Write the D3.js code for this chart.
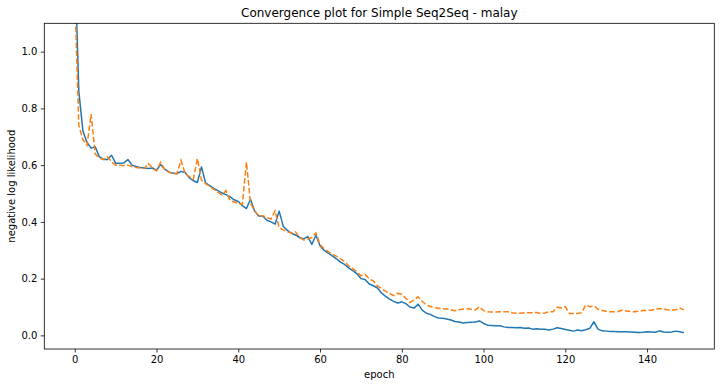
<!DOCTYPE html>
<html>
<head>
<meta charset="utf-8">
<script src="https://cdn.jsdelivr.net/npm/d3@7"></script>
<style>
  body { margin: 0; background: #fff; }
  text { font-family: "DejaVu Sans", sans-serif; fill: #000; }
</style>
</head>
<body>
<div id="chart"></div>
<script>
// Loss per epoch.
let trainLoss = [
  1.33, 0.86, 0.72, 0.68, 0.66, 0.665, 0.63, 0.62, 0.62, 0.635,
  0.607, 0.607, 0.608, 0.62, 0.60, 0.595, 0.592, 0.59, 0.588, 0.59,
  0.582, 0.602, 0.586, 0.576, 0.572, 0.57, 0.578, 0.574, 0.556, 0.545,
  0.539, 0.594, 0.538, 0.528, 0.518, 0.51, 0.502, 0.496, 0.488, 0.478,
  0.472, 0.457, 0.447, 0.48, 0.438, 0.421, 0.42, 0.406, 0.40, 0.392,
  0.438, 0.385, 0.37, 0.36, 0.354, 0.345, 0.34, 0.348, 0.321, 0.353,
  0.316, 0.30, 0.29, 0.28, 0.27, 0.258, 0.25, 0.238, 0.228, 0.218,
  0.20, 0.197, 0.182, 0.175, 0.168, 0.15, 0.138, 0.128, 0.12, 0.114,
  0.118, 0.112, 0.10, 0.096, 0.11, 0.089, 0.078, 0.074, 0.066, 0.061,
  0.06, 0.058, 0.054, 0.049, 0.047, 0.044, 0.045, 0.046, 0.047, 0.051,
  0.042, 0.036, 0.035, 0.034, 0.034, 0.03, 0.028, 0.028, 0.027, 0.028,
  0.025, 0.026, 0.022, 0.023, 0.022, 0.022, 0.019, 0.022, 0.027, 0.024,
  0.021, 0.018, 0.015, 0.019, 0.016, 0.02, 0.025, 0.048, 0.022, 0.016,
  0.015, 0.014, 0.014, 0.013, 0.013, 0.013, 0.012, 0.011, 0.01, 0.011,
  0.013, 0.012, 0.011, 0.016, 0.012, 0.011, 0.012, 0.015, 0.013, 0.009
]
let validLoss = [
  1.2, 0.74, 0.69, 0.67, 0.78, 0.64, 0.625, 0.62, 0.63, 0.612,
  0.60, 0.60, 0.598, 0.60, 0.595, 0.592, 0.59, 0.588, 0.606, 0.59,
  0.58, 0.61, 0.585, 0.575, 0.57, 0.57, 0.617, 0.57, 0.56, 0.55,
  0.623, 0.547, 0.535, 0.525, 0.515, 0.505, 0.495, 0.51, 0.475, 0.47,
  0.465, 0.462, 0.611, 0.465, 0.44, 0.42, 0.422, 0.415, 0.41, 0.439,
  0.38, 0.372, 0.365, 0.36, 0.365, 0.345, 0.336, 0.34, 0.345, 0.361,
  0.32, 0.305, 0.295, 0.285, 0.279, 0.27, 0.26, 0.245, 0.235, 0.225,
  0.21, 0.215, 0.2, 0.192, 0.175, 0.165, 0.156, 0.148, 0.14, 0.148,
  0.145, 0.13, 0.116, 0.125, 0.136, 0.12, 0.107, 0.102, 0.098, 0.096,
  0.094, 0.093, 0.09, 0.087, 0.09, 0.093, 0.094, 0.092, 0.09, 0.101,
  0.087, 0.083, 0.082, 0.082, 0.083, 0.083, 0.083, 0.08, 0.078, 0.078,
  0.08, 0.08, 0.08, 0.081, 0.077, 0.079, 0.083, 0.083, 0.099, 0.097,
  0.101, 0.077, 0.077, 0.077, 0.08, 0.107, 0.101, 0.104, 0.092, 0.088,
  0.085, 0.083, 0.083, 0.084, 0.089, 0.086, 0.084, 0.083, 0.085, 0.088,
  0.088, 0.089, 0.092, 0.094, 0.094, 0.09, 0.088, 0.09, 0.096, 0.09
]
let xTicks = [0, 20, 40, 60, 80, 100, 120, 140]
let yTicks = [0.0, 0.2, 0.4, 0.6, 0.8, 1.0]

let width = 724
let height = 387
let margin = {top: 23.3, right: 9.7, bottom: 38, left: 44.3}
let plotW = width - margin.left - margin.right
let plotH = height - margin.top - margin.bottom

let svg = d3.select("#chart").append("svg")
    .attr("width", width)
    .attr("height", height)

let g = svg.append("g")
    .attr("transform", "translate(" + margin.left + "," + margin.top + ")")

// matplotlib style 5% padding on x, fixed top on y
let n = trainLoss.length
let pad = (n - 1) * 0.05
let x = d3.scaleLinear().domain([-pad, n - 1 + pad]).range([0, plotW])
let y = d3.scaleLinear().domain([-0.048, 1.1]).range([plotH, 0])

g.append("clipPath").attr("id", "clip")
  .append("rect").attr("width", plotW).attr("height", plotH)

let line = d3.line()
    .x((d, i) => x(i))
    .y((d) => y(d))

g.append("path")
    .datum(trainLoss)
    .attr("clip-path", "url(#clip)")
    .attr("fill", "none")
    .attr("stroke", "#1f77b4")
    .attr("stroke-width", 1.5)
    .attr("stroke-linejoin", "round")
    .attr("d", line)

g.append("path")
    .datum(validLoss)
    .attr("clip-path", "url(#clip)")
    .attr("fill", "none")
    .attr("stroke", "#ff7f0e")
    .attr("stroke-width", 1.5)
    .attr("stroke-dasharray", "5.55,2.4")
    .attr("d", line)

// Axes
let xAxis = g.append("g")
    .attr("transform", "translate(0," + plotH + ")")
    .call(d3.axisBottom(x).tickValues(xTicks).tickSize(3.5).tickPadding(3.5).tickFormat(d3.format("d")))
let yAxis = g.append("g")
    .call(d3.axisLeft(y).tickValues(yTicks).tickSize(3.5).tickPadding(3.5).tickFormat(d3.format(".1f")))

svg.selectAll(".domain").remove()
svg.selectAll(".tick line").attr("stroke", "#000").attr("stroke-width", 0.8)
svg.selectAll(".tick text").style("font-size", "10px").style("font-family", "DejaVu Sans")

g.append("rect")
    .attr("width", plotW)
    .attr("height", plotH)
    .attr("fill", "none")
    .attr("stroke", "#000")
    .attr("stroke-width", 0.8)

svg.append("text")
    .attr("x", margin.left + plotW / 2)
    .attr("y", 17)
    .attr("text-anchor", "middle")
    .style("font-size", "12px")
    .text("Convergence plot for Simple Seq2Seq - malay")

svg.append("text")
    .attr("x", margin.left + plotW / 2)
    .attr("y", 378)
    .attr("text-anchor", "middle")
    .style("font-size", "10px")
    .text("epoch")

svg.append("text")
    .attr("transform", "translate(15," + (margin.top + plotH / 2) + ") rotate(-90)")
    .attr("text-anchor", "middle")
    .style("font-size", "10px")
    .text("negative log likelihood")
</script>
</body>
</html>
